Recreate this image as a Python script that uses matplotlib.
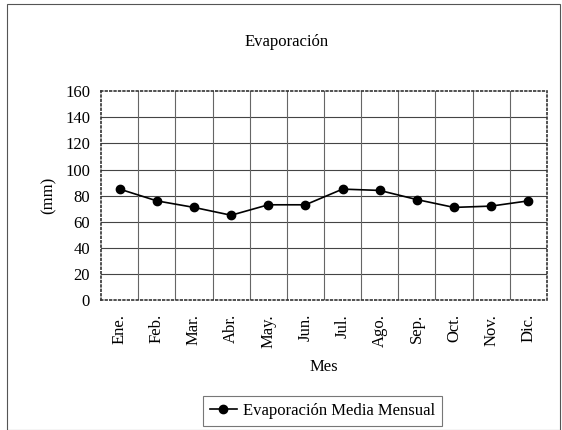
import numpy as np
import matplotlib
matplotlib.use("Agg")
import matplotlib.pyplot as plt

plt.rcParams['font.family'] = ['Liberation Serif', 'DejaVu Serif']

meses = ['Ene.', 'Feb.', 'Mar.', 'Abr.', 'May.', 'Jun.', 'Jul.', 'Ago.', 'Sep.', 'Oct.', 'Nov.', 'Dic.']
evaporacion = [85, 76, 71, 65, 73, 73, 85, 84, 77, 71, 72, 76]

fig = plt.figure(figsize=(5.62, 4.30), dpi=100)
ax = fig.add_axes([0.18, 0.302, 0.793, 0.486])

x = np.arange(len(meses))
ax.plot(x, evaporacion, color='black', lw=1.2, marker='o', ms=6,
        label='Evaporación Media Mensual')

ax.set_xlim(-0.5, len(meses) - 0.5)
ax.set_ylim(0, 160)
ax.set_yticks(range(0, 161, 20))
ax.set_xticks(x)
ax.set_xticklabels(meses, rotation=90, fontsize=12)
ax.tick_params(axis='y', labelsize=12, length=0, pad=8)
ax.tick_params(axis='x', length=0, pad=10)

# grid: horizontal at each tick, vertical between categories
for yv in range(20, 160, 20):
    ax.axhline(yv, color='#444444', lw=0.8, zorder=0)
for xv in np.arange(0.5, len(meses) - 0.5, 1):
    ax.axvline(xv, color='#666666', lw=0.8, zorder=0)
for s in ax.spines.values():
    s.set_linestyle(':')
    s.set_linewidth(1.2)
    s.set_color('#333333')

ax.set_xlabel('Mes', fontsize=12, labelpad=8)
ax.set_ylabel('(mm)', fontsize=12, labelpad=6)
fig.text(0.51, 0.902, 'Evaporación', ha='center', va='center', fontsize=12)

leg = ax.legend(loc='center', bbox_to_anchor=(0.497, -0.531), fontsize=12,
                frameon=True, fancybox=False, edgecolor='#555555',
                handlelength=1.6, handletextpad=0.4, borderpad=0.4)
leg.get_frame().set_linewidth(0.8)

# outer frame around the chart
fig.patches.append(plt.Rectangle((0.012, 0.0), 0.985, 0.99, transform=fig.transFigure,
                                 fill=False, edgecolor='#555555', lw=0.8))

fig.savefig('out.png', dpi=100)
